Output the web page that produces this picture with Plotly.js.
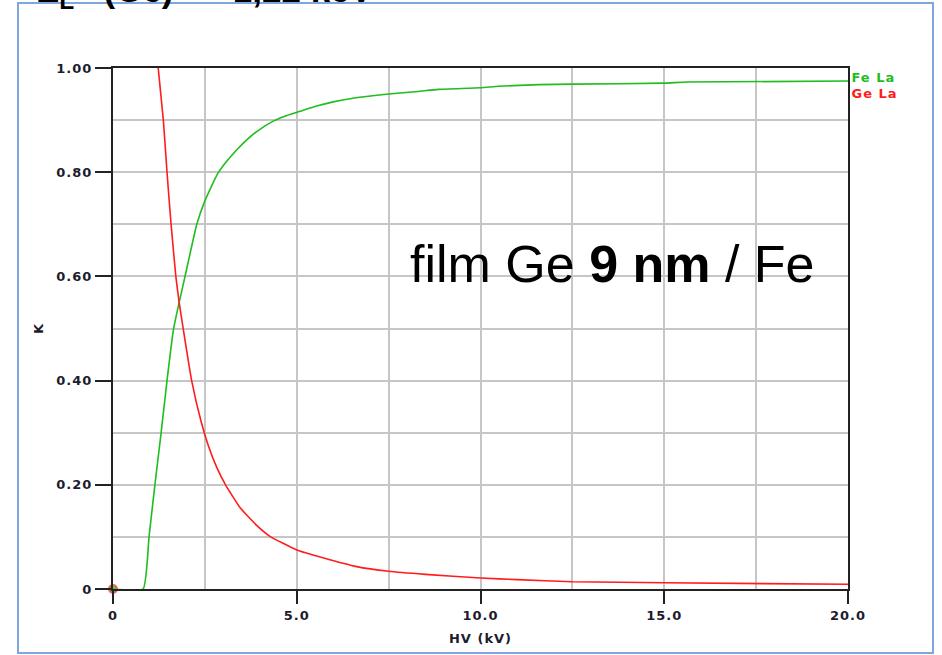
<!DOCTYPE html>
<html>
<head>
<meta charset="utf-8">
<script src="https://cdn.plot.ly/plotly-3.0.1.min.js"></script>
<style>
  html, body { margin: 0; padding: 0; background: #ffffff; }
  #chart { width: 942px; height: 655px; }
  /* the small axis lettering is set wide */
  #chart .xtick text, #chart .ytick text, #chart .g-xtitle text, #chart .g-ytitle text,
  #chart .annotation.wide text { letter-spacing: 1px; }
</style>
</head>
<body>
<div id="chart"></div>
<script>
// K-ratio versus accelerating voltage for a 9 nm Ge film on Fe
const hvFe = [0, 0.82, 0.98, 1.14, 1.31, 1.47, 1.65, 1.80, 1.96, 2.28, 2.5, 2.83, 3.05, 3.37, 3.64, 3.91, 4.36, 4.73, 5.09, 5.54, 5.99, 6.45, 7.5, 8.3, 8.85, 10.0, 10.5, 11.6, 12.5, 15.0, 15.6, 20.0];
const kFe  = [0, 0, 0.10, 0.20, 0.30, 0.40, 0.50, 0.55, 0.60, 0.70, 0.745, 0.795, 0.817, 0.843, 0.862, 0.878, 0.898, 0.909, 0.917, 0.927, 0.935, 0.941, 0.950, 0.955, 0.959, 0.962, 0.965, 0.968, 0.969, 0.971, 0.973, 0.975];

// Ge La is zero below its edge; the null breaks the line there
const hvGe = [0, 0.6, 1.23, 1.37, 1.47, 1.58, 1.71, 1.80, 1.91, 2.14, 2.41, 2.59, 2.82, 3.07, 3.46, 3.91, 4.27, 5.0, 5.71, 6.63, 7.5, 8.5, 10.0, 11.0, 12.5, 15.0, 20.0];
const kGe  = [0, null, 1.00, 0.90, 0.80, 0.70, 0.60, 0.55, 0.50, 0.40, 0.318, 0.276, 0.234, 0.199, 0.156, 0.122, 0.101, 0.075, 0.060, 0.043, 0.034, 0.028, 0.021, 0.018, 0.014, 0.012, 0.009];

const xTickVals = [0, 5, 10, 15, 20];
const xTickText = ['0', '5.0', '10.0', '15.0', '20.0'];
const yTickVals = [0, 0.2, 0.4, 0.6, 0.8, 1.0];
const yTickText = ['0', '0.20', '0.40', '0.60', '0.80', '1.00'];

const seriesNames = ['Fe La', 'Ge La'];
const GREEN = '#1fbd1f';
const RED = '#ff1c1c';
const INK = '#1c1c2c';

const tickFont = { family: 'DejaVu Sans, Liberation Sans, sans-serif', size: 13, color: INK, weight: 700 };
const smallBold = (color) => ({ family: 'DejaVu Sans, sans-serif', size: 13, weight: 700, color: color });

function firstOnly(n, size) {
  return Array.from({ length: n }, (_, i) => (i === 0 ? size : 0));
}

const traces = [
  {
    x: hvFe, y: kFe, name: seriesNames[0], type: 'scatter', mode: 'lines+markers',
    line: { color: GREEN, width: 1.6, shape: 'spline', smoothing: 0.4 },
    marker: { symbol: 'square', color: GREEN, size: firstOnly(hvFe.length, 7) },
    cliponaxis: false, showlegend: false, hoverinfo: 'skip'
  },
  {
    x: hvGe, y: kGe, name: seriesNames[1], type: 'scatter', mode: 'lines+markers',
    line: { color: RED, width: 1.6, shape: 'spline', smoothing: 0.4 },
    connectgaps: false,
    marker: { symbol: 'circle-open', color: RED, size: firstOnly(hvGe.length, 8), line: { width: 2, color: RED } },
    cliponaxis: false, showlegend: false, hoverinfo: 'skip'
  }
];

const plotW = 942 - 113 - 94;
const plotH = 655 - 68 - 66;
// convert a page pixel to paper fractions of the plotting area
const px = v => (v - 113) / plotW;
const py = v => (589 - v) / plotH;

const layout = {
  width: 942, height: 655,
  margin: { l: 113, r: 94, t: 68, b: 66 },
  paper_bgcolor: '#ffffff', plot_bgcolor: '#ffffff',
  showlegend: false,
  font: { family: 'Liberation Sans, Arial, sans-serif', color: '#000' },
  xaxis: {
    range: [0, 20], fixedrange: true,
    tickvals: xTickVals, ticktext: xTickText,
    ticks: 'outside', ticklen: 13, tickwidth: 2, tickcolor: '#222',
    tickfont: tickFont,
    showline: true, linecolor: '#222', linewidth: 2, mirror: true,
    showgrid: true, gridcolor: '#c6c6c6', gridwidth: 2,
    minor: { dtick: 2.5, tick0: 0, showgrid: true, gridcolor: '#c6c6c6', gridwidth: 2, ticks: '' },
    zeroline: false,
    title: { text: 'HV (kV)', font: smallBold(INK), standoff: 12 }
  },
  yaxis: {
    range: [0, 1], fixedrange: true,
    tickvals: yTickVals, ticktext: yTickText,
    ticks: 'outside', ticklen: 16, tickwidth: 2, tickcolor: '#222',
    tickfont: tickFont,
    showline: true, linecolor: '#222', linewidth: 2, mirror: true,
    showgrid: true, gridcolor: '#c6c6c6', gridwidth: 2,
    minor: { dtick: 0.1, tick0: 0, showgrid: true, gridcolor: '#c6c6c6', gridwidth: 2, ticks: '' },
    zeroline: false,
    title: { text: 'K', font: smallBold(INK), standoff: 14 }
  },
  shapes: [
    {
      type: 'rect', xref: 'paper', yref: 'paper',
      x0: px(18), x1: px(933), y0: py(653), y1: py(3),
      line: { color: '#7fa6dd', width: 2 }, fillcolor: 'rgba(0,0,0,0)', layer: 'below'
    }
  ],
  annotations: [
    {
      xref: 'paper', yref: 'paper', x: px(852), y: py(77), xanchor: 'left', yanchor: 'middle',
      text: seriesNames[0], showarrow: false,
      font: smallBold(GREEN)
    },
    {
      xref: 'paper', yref: 'paper', x: px(852), y: py(93), xanchor: 'left', yanchor: 'middle',
      text: seriesNames[1], showarrow: false,
      font: smallBold(RED)
    },
    {
      xref: 'paper', yref: 'paper', x: px(612.5), y: py(264), xanchor: 'center', yanchor: 'middle',
      text: 'film Ge <b>9 nm</b> / Fe', showarrow: false,
      font: { family: 'Liberation Sans, Arial, sans-serif', size: 52, color: '#000' }
    },
    {
      xref: 'paper', yref: 'paper', x: px(34), y: py(16), xanchor: 'left', yanchor: 'bottom',
      text: '<b>E<sub>L</sub>   (Ge)  =  1,22 keV</b>', showarrow: false,
      font: { family: 'Liberation Sans, Arial, sans-serif', size: 35, color: '#000' }
    }
  ]
};

Plotly.newPlot('chart', traces, layout, { displayModeBar: false, staticPlot: true }).then(() => {
  // legend labels share the wide lettering of the axes
  document.querySelectorAll('#chart .annotation').forEach((g, i) => {
    if (i < 2) g.classList.add('wide');
  });
});
</script>
</body>
</html>
